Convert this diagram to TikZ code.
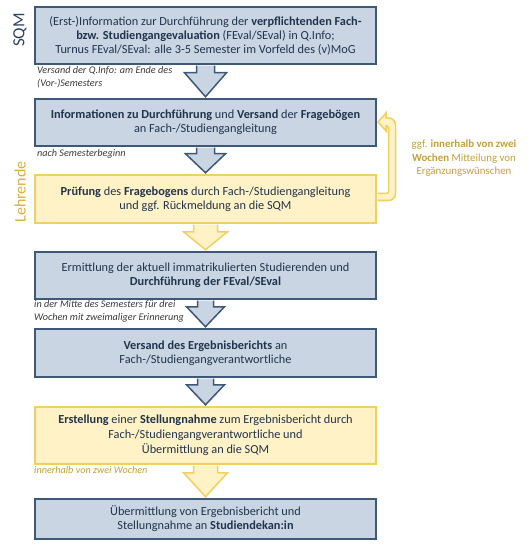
\documentclass[tikz,border=0pt]{standalone}
\usepackage{fontspec}
\setmainfont{Carlito}
\usetikzlibrary{calc}
\definecolor{bfill}{HTML}{C9D5E3}
\definecolor{bline}{HTML}{3E5877}
\definecolor{yfill}{HTML}{FFF2C6}
\definecolor{yline}{HTML}{F2D060}
\definecolor{tdark}{HTML}{22344C}
\definecolor{gold}{HTML}{C4A036}
\definecolor{lgold}{HTML}{D8AE3D}
\definecolor{sqmcol}{HTML}{2E4360}
\definecolor{annot}{HTML}{3A3A3A}
\newcommand\dnarrow[6]{%
  \filldraw[#1] ($(#2.south)+(-#4,0.8)$) -- ($(#2.south)+(-#4,#6)$) -- ($(#2.south)+(-#5,#6)$)
    -- ($(#3.north)+(0,-1.5)$) -- ($(#2.south)+(#5,#6)$) -- ($(#2.south)+(#4,#6)$) -- ($(#2.south)+(#4,0.8)$);}
\tikzset{
  box/.style={rectangle, minimum width=341pt, inner sep=2pt, align=center,
    text=tdark, font=\fontsize{12.3}{14}\selectfont, line width=1.5pt},
  bluebox/.style={box, fill=bfill, draw=bline},
  yelbox/.style={box, fill=yfill, draw=yline},
  bluearrow/.style={fill=bfill, draw=bline, line width=1.5pt, line join=miter},
  yelarrow/.style={fill=yfill, draw=yline, line width=1.5pt, line join=miter},
  fbarrow/.style={fill=yfill, draw=yline, line width=1.5pt},
  note/.style={anchor=west, align=left, inner sep=0pt, font=\fontsize{10.2}{12.5}\selectfont\itshape, text=annot},
  side/.style={rotate=90, inner sep=0pt}
}
\begin{document}
\begin{tikzpicture}[x=1pt, y=-1pt]
\useasboundingbox (0,0) rectangle (531,545);
\node[bluebox, minimum height=57pt] (b1) at (205.5,35.5) {(Erst-)Information zur Durchführung der \textbf{verpflichtenden Fach-}\\ \textbf{bzw. Studiengangevaluation} (FEval/SEval) in Q.Info;\\ Turnus FEval/SEval: alle 3-5 Semester im Vorfeld des (v)MoG};
\node[bluebox, minimum height=47pt] (b2) at (205.5,122.5) {\textbf{Informationen zu Durchführung} und \textbf{Versand} der \textbf{Fragebögen}\\ an Fach-/Studiengangleitung};
\node[yelbox, minimum height=48pt] (b3) at (205.5,199) {\textbf{Prüfung} des \textbf{Fragebogens} durch Fach-/Studiengangleitung\\ und ggf. Rückmeldung an die SQM};
\node[bluebox, minimum height=47pt] (b4) at (205.5,275.5) {Ermittlung der aktuell immatrikulierten Studierenden und\\ \textbf{Durchführung der FEval/SEval}};
\node[bluebox, minimum height=48pt] (b5) at (205.5,353) {\textbf{Versand des Ergebnisberichts} an\\ Fach-/Studiengangverantwortliche};
\node[yelbox, minimum height=57pt, font=\fontsize{12.3}{15}\selectfont] (b6) at (205.5,435.5) {\textbf{Erstellung} einer \textbf{Stellungnahme} zum Ergebnisbericht durch\\ Fach-/Studiengangverantwortliche und\\ Übermittlung an die SQM};
\node[bluebox, minimum height=40pt] (b7) at (205.5,519) {Übermittlung von Ergebnisbericht und\\ Stellungnahme an \textbf{Studiendekan:in}};

\dnarrow{bluearrow}{b1}{b2}{9}{21}{8}
\dnarrow{bluearrow}{b2}{b3}{9}{20}{7}
\dnarrow{yelarrow}{b3}{b4}{12}{22}{8}
\dnarrow{bluearrow}{b4}{b5}{8}{19}{7}
\dnarrow{bluearrow}{b5}{b6}{8}{19}{7}
\dnarrow{yelarrow}{b6}{b7}{12}{22}{8}

% feedback arrow
\filldraw[fbarrow] ($(b3.east)+(0.8,-5.5)$) [rounded corners=2pt] -- (388.5,193.5) -- (388.5,126) [sharp corners] -- (386,126) -- (386,131) -- (378,122) -- (386,113) -- (386,118) [rounded corners=7pt] -- (395.5,118) -- (395.5,200.5) [sharp corners] -- ($(b3.east)+(0.8,1.5)$);

\node[align=center, text=gold, font=\fontsize{10.9}{13.5}\selectfont] (fbl) at (464,158.5) {ggf. \textbf{innerhalb von zwei}\\ \textbf{Wochen} Mitteilung von\\ Ergänzungswünschen};

\node[note] (n1) at (37,77) {Versand der Q.Info: am Ende des\\ (Vor-)Semesters};
\node[note] (n2) at (37,154) {nach Semesterbeginn};
\node[note] (n3) at (34,311.5) {in der Mitte des Semesters für drei\\ Wochen mit zweimaliger Erinnerung};
\node[note, text=gold] (n4) at (34,470) {innerhalb von zwei Wochen};

\node[side, text=sqmcol, font=\fontsize{17}{20}\selectfont] (sqm) at (20,30) {SQM};
\node[side, text=lgold, font=\fontsize{16}{19}\selectfont] (leh) at (20,192) {Lehrende};
\end{tikzpicture}
\end{document}
